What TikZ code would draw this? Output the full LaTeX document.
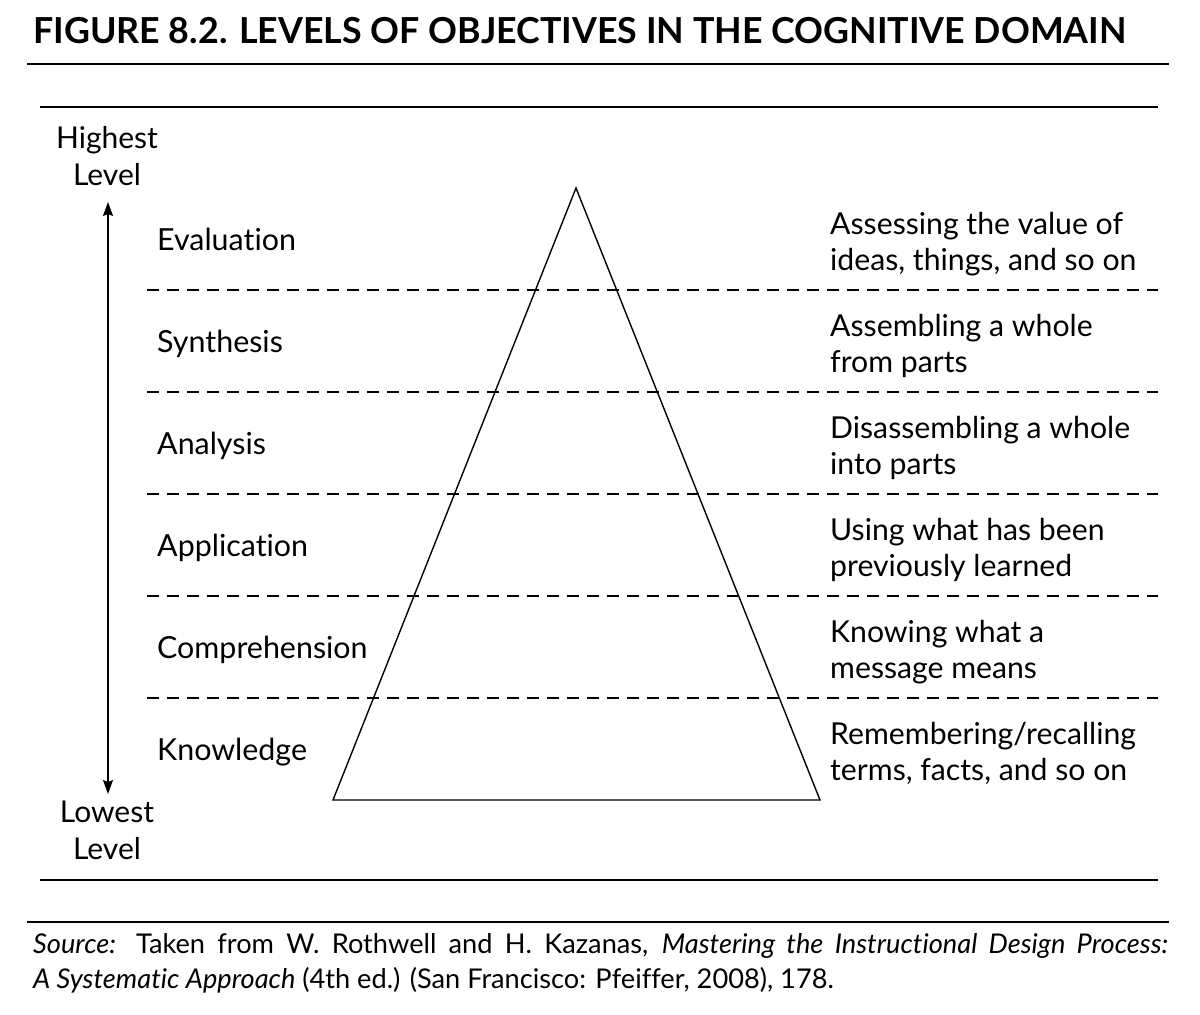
\documentclass[tikz,border=0pt]{standalone}
\usepackage{fontspec}
\setmainfont[Ligatures=NoCommon]{Lato}
\usetikzlibrary{arrows.meta}
\begin{document}
\begin{tikzpicture}[x=1pt,y=-1pt,
  rule/.style={line width=1.4pt},
  dashrule/.style={line width=1.2pt, dash pattern=on 12pt off 8pt},
  shape line/.style={line width=1.4pt, line join=miter},
  lvl/.style={anchor=base west, inner sep=0pt, font=\fontsize{30.4}{36}\selectfont},
  endlabel/.style={anchor=base, align=center, inner sep=0pt, font=\fontsize{30}{36.5}\selectfont},
  desc/.style={anchor=base west, align=left, inner sep=0pt, font=\fontsize{30.2}{35.5}\selectfont},
  title/.style={anchor=base west, inner sep=0pt, font=\fontsize{35.8}{40}\selectfont\bfseries},
  levelarrow/.style={line width=1.4pt, {Stealth[length=14pt,width=10pt,inset=2pt]}-{Stealth[length=14pt,width=10pt,inset=2pt]}}
]
\useasboundingbox (0,0) rectangle (1200,1015);

% heading and frame rules
\node[title] (title) at (33,43) {FIGURE 8.2. LEVELS OF OBJECTIVES IN THE COGNITIVE DOMAIN};
\draw[rule] (27,64) -- (1169,64);
\draw[rule] (40,107) -- (1158,107);
\draw[rule] (40,880) -- (1158,880);
\draw[rule] (27,922) -- (1169,922);

% level separators
\foreach \y in {290,392,494,596,698}
  \draw[dashrule] (147,\y) -- (1158,\y);

% pyramid
\coordinate (apex) at (576,188);
\coordinate (bl) at (333,800);
\coordinate (br) at (820,800);
\draw[shape line] (apex) -- (bl) -- (br) -- cycle;

% scale from lowest to highest (base anchor sits on the last line)
\node[endlabel] (high) at (107,185) {Highest\\Level};
\node[endlabel] (low) at (107,859) {Lowest\\Level};
\coordinate (atop) at (108,202);
\coordinate (abot) at (108,794);
\draw[levelarrow] (abot) -- (atop);

% level names
\node[lvl] (l1) at (157,250) {Evaluation};
\node[lvl] (l2) at (157,352) {Synthesis};
\node[lvl] (l3) at (157,454) {Analysis};
\node[lvl] (l4) at (157,556) {Application};
\node[lvl] (l5) at (157,658) {Comprehension};
\node[lvl] (l6) at (157,760) {Knowledge};

% descriptions
\node[desc] (d1) at (830,270) {Assessing the value of\\ideas, things, and so on};
\node[desc] (d2) at (830,372) {Assembling a whole\\from parts};
\node[desc] (d3) at (830,474) {Disassembling a whole\\into parts};
\node[desc] (d4) at (830,576) {Using what has been\\previously learned};
\node[desc] (d5) at (830,678) {Knowing what a\\message means};
\node[desc] (d6) at (830,780) {Remembering/recalling\\terms, facts, and so on};

% source note
\node[anchor=north west, inner sep=0pt, text width=1135pt, align=justify,
      font=\fontsize{27.2}{35}\selectfont] (src) at (33,933)
  {\textit{Source:} Taken from W. Rothwell and H. Kazanas, \textit{Mastering the Instructional Design Process:}\linebreak[4]
   \textit{A Systematic Approach} (4th ed.) (San Francisco: Pfeiffer, 2008), 178.};
\end{tikzpicture}
\end{document}
